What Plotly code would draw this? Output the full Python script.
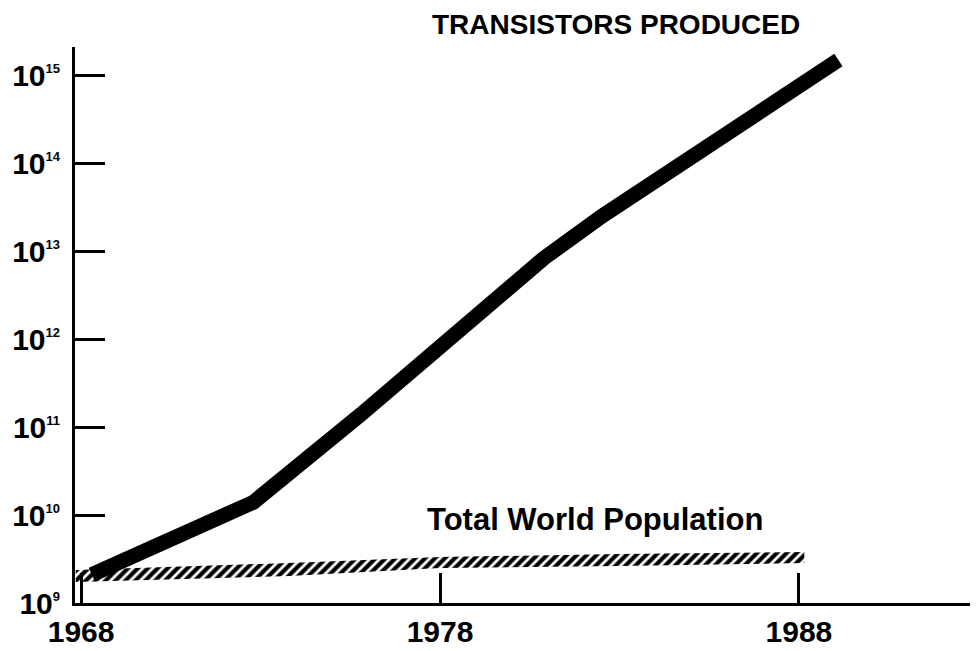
import plotly.graph_objects as go

# Transistors produced
tr_years = [1968.3, 1969.8, 1972.8, 1975.8, 1979.1, 1980.9, 1982.5, 1985.0, 1986.9, 1989.1]
transistors = [2.1e9, 3.9e9, 1.4e10, 1.4e11, 2.0e12, 8.4e12, 2.5e13, 1.2e14, 3.9e14, 1.5e15]

# Total world population band (lower / upper edge of hatched band)
pop_years = [1967.85, 1973.8, 1978.0, 1983.0, 1988.15]
pop_lower = [1.73e9, 2.03e9, 2.5e9, 2.64e9, 2.85e9]
pop_upper = [2.37e9, 2.85e9, 3.33e9, 3.61e9, 3.8e9]

y_exponents = [9, 10, 11, 12, 13, 14, 15]
x_ticks = [1968, 1978, 1988]

FONT = "Liberation Sans, Arial, sans-serif"

fig = go.Figure()

fig.add_trace(go.Scatter(
    x=pop_years, y=pop_lower, mode="lines",
    line=dict(width=0, color="black"), hoverinfo="skip", showlegend=False))
fig.add_trace(go.Scatter(
    x=pop_years, y=pop_upper, mode="lines", fill="tonexty",
    fillcolor="white",
    fillpattern=dict(shape="/", fgcolor="black", bgcolor="white", fgopacity=1,
                     size=7, solidity=0.6),
    line=dict(width=0, color="black"), hoverinfo="skip", showlegend=False))

fig.add_trace(go.Scatter(
    x=tr_years, y=transistors, mode="lines",
    line=dict(width=15, color="black"), hoverinfo="skip", showlegend=False))

tick_vals = [10 ** e for e in y_exponents]
tick_text = [f"10<sup><span style='font-size:13px'>{e}</span></sup>" for e in y_exponents]

fig.update_layout(
    width=970, height=643,
    margin=dict(l=67, r=0, t=39, b=48),
    paper_bgcolor="white", plot_bgcolor="white",
    font=dict(family=FONT, color="black"),
    xaxis=dict(
        range=[1967.83, 1992.99], showgrid=False, zeroline=False, automargin=False,
        showline=True, linecolor="black", linewidth=3,
        tickvals=x_ticks, ticktext=[str(v) for v in x_ticks],
        ticks="inside", ticklen=30, tickwidth=2.5, tickcolor="black",
        tickfont=dict(family=FONT, size=30, weight="bold", color="black"),
        ticklabelstandoff=0,
    ),
    yaxis=dict(
        type="log", range=[9, 15.325], showgrid=False, zeroline=False, automargin=False,
        showline=True, linecolor="black", linewidth=3,
        tickvals=tick_vals, ticktext=tick_text,
        ticks="inside", ticklen=30, tickwidth=2.5, tickcolor="black",
        tickfont=dict(family=FONT, size=30, weight="bold", color="black"),
        ticklabelstandoff=6,
    ),
    annotations=[
        dict(text="TRANSISTORS PRODUCED", xref="paper", yref="paper",
             x=0.599, y=1.0396, showarrow=False, xanchor="center", yanchor="middle",
             font=dict(family=FONT, size=28, weight="bold", color="black")),
        dict(text="Total World Population", xref="paper", yref="paper",
             x=0.576, y=0.151, showarrow=False, xanchor="center", yanchor="middle",
             font=dict(family=FONT, size=31, weight="bold", color="black")),
    ],
)

fig.write_html("out.html")
